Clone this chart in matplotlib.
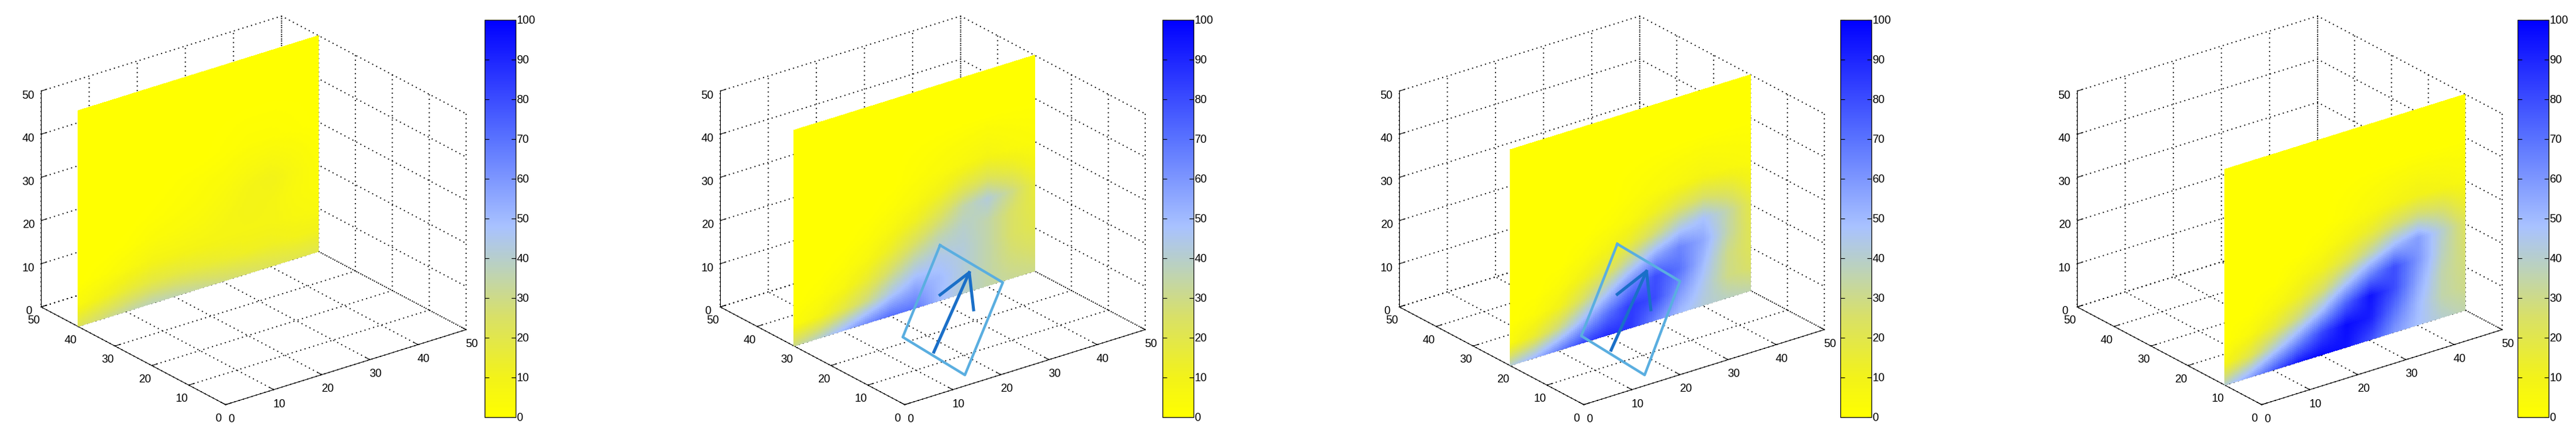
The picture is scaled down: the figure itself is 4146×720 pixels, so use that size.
import numpy as np
import matplotlib
matplotlib.use("Agg")
import matplotlib.pyplot as plt
from matplotlib.colors import LinearSegmentedColormap, Normalize
from matplotlib.cm import ScalarMappable
from matplotlib.lines import Line2D

plt.rcParams['font.family'] = ['Liberation Sans', 'DejaVu Sans']
plt.rcParams['font.size'] = 13
plt.rcParams['grid.linestyle'] = ':'
plt.rcParams['grid.color'] = 'black'
plt.rcParams['grid.linewidth'] = 1.3

W, H = 4146, 720

# posição do plano (y) em cada painel
plane_y = [40, 30, 20, 10]

# malha de leitura: colunas x, linhas z
grid_x = [0, 5, 10, 15, 20, 25, 30, 35, 40, 45, 50]
grid_z = [0, 5, 10, 15, 20, 25, 30, 40, 50]

field_y40 = [
    [22, 28, 33, 36, 35, 32, 28, 25, 22, 20, 20],
    [5, 10, 15, 18, 18, 16, 14, 12, 12, 10, 10],
    [0, 2, 5, 8, 8, 8, 8, 8, 8, 6, 5],
    [0, 0, 1, 3, 4, 5, 7, 9, 8, 5, 3],
    [0, 0, 0, 1, 2, 3, 5, 8, 10, 6, 2],
    [0, 0, 0, 0, 1, 2, 3, 5, 6, 4, 1],
    [0, 0, 0, 0, 0, 0, 1, 2, 2, 1, 0],
    [0, 0, 0, 0, 0, 0, 0, 0, 0, 0, 0],
    [0, 0, 0, 0, 0, 0, 0, 0, 0, 0, 0],
]
field_y30 = [
    [30, 38, 50, 62, 70, 68, 50, 40, 35, 32, 30],
    [3, 8, 18, 30, 45, 55, 50, 42, 35, 28, 25],
    [0, 2, 6, 15, 28, 40, 45, 42, 35, 25, 20],
    [0, 0, 2, 6, 14, 25, 35, 40, 35, 25, 18],
    [0, 0, 0, 2, 6, 12, 22, 35, 42, 30, 15],
    [0, 0, 0, 0, 2, 5, 10, 18, 22, 16, 8],
    [0, 0, 0, 0, 0, 2, 4, 6, 8, 5, 3],
    [0, 0, 0, 0, 0, 0, 0, 0, 0, 0, 0],
    [0, 0, 0, 0, 0, 0, 0, 0, 0, 0, 0],
]
field_y20 = [
    [40, 50, 65, 80, 88, 85, 65, 50, 42, 38, 35],
    [5, 15, 30, 50, 70, 85, 80, 60, 45, 30, 25],
    [0, 3, 10, 25, 45, 65, 80, 70, 50, 30, 22],
    [0, 0, 3, 10, 20, 38, 55, 65, 55, 35, 20],
    [0, 0, 0, 3, 8, 15, 28, 42, 48, 35, 18],
    [0, 0, 0, 0, 2, 5, 12, 20, 25, 20, 10],
    [0, 0, 0, 0, 0, 2, 4, 6, 8, 6, 4],
    [0, 0, 0, 0, 0, 0, 0, 0, 0, 0, 0],
    [0, 0, 0, 0, 0, 0, 0, 0, 0, 0, 0],
]
field_y10 = [
    [40, 55, 75, 92, 97, 95, 80, 60, 48, 40, 35],
    [8, 20, 40, 60, 82, 97, 92, 70, 50, 35, 30],
    [0, 5, 15, 30, 50, 75, 95, 80, 55, 35, 28],
    [0, 0, 5, 12, 25, 45, 65, 80, 60, 38, 25],
    [0, 0, 0, 5, 10, 20, 35, 50, 58, 40, 22],
    [0, 0, 0, 0, 3, 8, 15, 25, 30, 25, 12],
    [0, 0, 0, 0, 0, 2, 5, 8, 10, 8, 5],
    [0, 0, 0, 0, 0, 0, 0, 0, 0, 0, 0],
    [0, 0, 0, 0, 0, 0, 0, 0, 0, 0, 0],
]
fields = [field_y40, field_y30, field_y20, field_y10]

# retângulo e seta desenhados à mão (pixels da figura), painéis 2 e 3
rect_px = {
    1: [(1513, 395), (1614, 455), (1553, 604), (1453, 543)],
    2: [(2603, 393), (2704, 453), (2647, 604), (2545, 541)],
}
arrow_px = {
    1: [(1503, 567), (1560, 439), (1513, 475), (1560, 439), (1567, 499)],
    2: [(2593, 564), (2650, 437), (2603, 474), (2650, 437), (2657, 499)],
}

# centro horizontal de cada cubo 3D e borda esquerda de cada colorbar (pixels)
panel_center = [396, 1489, 2582, 3673]
colorbar_left = [780, 1871, 2962, 4052]

cmap = LinearSegmentedColormap.from_list('amarelo_azul', [
    (0.0, (1.0, 1.0, 0.0)),
    (0.1, (0.95, 0.95, 0.1)),
    (0.25, (0.85, 0.88, 0.4)),
    (0.38, (0.73, 0.82, 0.75)),
    (0.48, (0.66, 0.76, 1.0)),
    (0.7, (0.35, 0.45, 1.0)),
    (1.0, (0.0, 0.0, 1.0)),
])
norm = Normalize(0, 100)


def refinar(campo, n=120):
    """Interpolação bilinear só para suavizar o sombreamento."""
    campo = np.array(campo, dtype=float)
    xf = np.linspace(0, 50, n)
    zf = np.linspace(0, 50, n)
    tmp = np.array([np.interp(xf, grid_x, linha) for linha in campo])
    fino = np.array([np.interp(zf, grid_z, tmp[:, j]) for j in range(n)]).T
    return xf, zf, fino


fig = plt.figure(figsize=(W / 100, H / 100), dpi=100)

for i in range(4):
    c = panel_center[i]
    aw = 900
    ax = fig.add_axes([(c - aw / 2) / W, (360 - aw / 2 + 9) / H, aw / W, aw / H], projection='3d')
    ax.view_init(elev=24, azim=-127.5)
    ax.set_box_aspect((1, 1, 0.78), zoom=0.85)
    ax.set_proj_type('ortho')

    xf, zf, val = refinar(fields[i])
    X, Z = np.meshgrid(xf, zf)
    Y = np.full_like(X, plane_y[i])
    ax.plot_surface(X, Y, Z, facecolors=cmap(norm(val)), shade=False,
                    linewidth=0, antialiased=False, rcount=120, ccount=120)

    ax.set_xlim(0, 50)
    ax.set_ylim(0, 50)
    ax.set_zlim(0, 50)
    ax.set_xticks(range(0, 51, 10))
    ax.set_yticks(range(0, 51, 10))
    ax.set_zticks(range(0, 51, 10))
    for eixo in (ax.xaxis, ax.yaxis, ax.zaxis):
        eixo.set_pane_color((1, 1, 1, 0))
        eixo.pane.set_edgecolor((1, 1, 1, 0))
        eixo._axinfo['grid'].update(color='black', linestyle=(0, (1, 3)), linewidth=1.3)
        eixo._axinfo['tick'].update(inward_factor=0.0, outward_factor=0.3)
        eixo.line.set_color('black')
    ax.tick_params(labelsize=13, pad=2)

    cax = fig.add_axes([colorbar_left[i] / W, 48 / H, 50 / W, 640 / H])
    cb = fig.colorbar(ScalarMappable(norm=norm, cmap=cmap), cax=cax)
    cb.set_ticks(range(0, 101, 10))
    cax.tick_params(direction='in', left=True, right=True, length=5, labelsize=13, pad=1)

    if i in rect_px:
        pts = rect_px[i] + [rect_px[i][0]]
        fig.add_artist(Line2D([p[0] / W for p in pts], [1 - p[1] / H for p in pts],
                              color='#5aaee0', linewidth=3, transform=fig.transFigure))
        a = arrow_px[i]
        fig.add_artist(Line2D([a[0][0] / W, a[1][0] / W], [1 - a[0][1] / H, 1 - a[1][1] / H],
                              color='#1a6fc8', linewidth=3.5, transform=fig.transFigure))
        fig.add_artist(Line2D([p[0] / W for p in a[2:]], [1 - p[1] / H for p in a[2:]],
                              color='#1a6fc8', linewidth=3.5, transform=fig.transFigure))

fig.savefig('out.png', dpi=100)
